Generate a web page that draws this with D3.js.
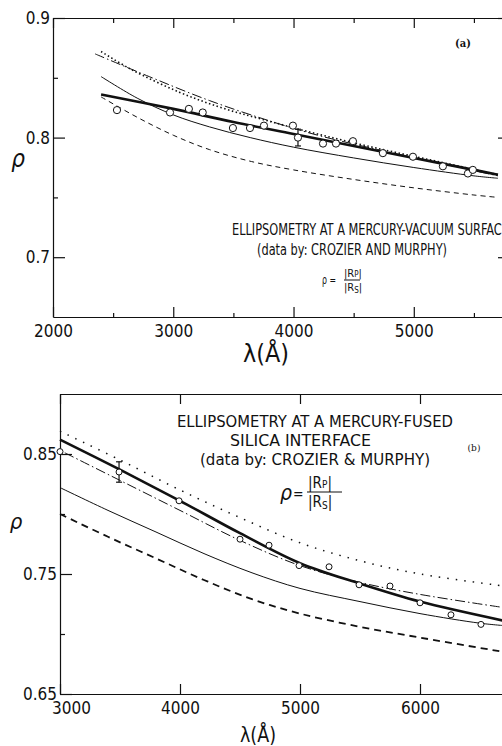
<!DOCTYPE html>
<html>
<head>
<meta charset="utf-8">
<script src="https://cdn.jsdelivr.net/npm/d3@7"></script>
<style>
body { margin: 0; background: #fff; }
svg { display: block; }
text { font-family: "DejaVu Sans Condensed", "Liberation Sans Narrow", "DejaVu Sans", sans-serif; fill: #111; font-stretch: condensed; }
.axis path, .axis line { stroke: #111; stroke-width: 1.2; }
</style>
</head>
<body>
<svg id="chart" width="502" height="746"></svg>
<script>
// ---- panel (a): mercury - vacuum surface, [wavelength (A), rho]
const aThick   = [[2400,0.836],[3000,0.824],[3500,0.813],[4000,0.803],[4500,0.793],[5000,0.783],[5500,0.773],[5700,0.769]];
const aDotted  = [[2400,0.872],[2650,0.857],[3050,0.838],[3400,0.825],[3750,0.815],[4200,0.803],[4700,0.791],[5200,0.780],[5700,0.769]];
const aDashDot = [[2350,0.870],[2800,0.851],[3300,0.831],[3800,0.814],[4200,0.802],[4700,0.790],[5200,0.779],[5700,0.768]];
const aThin    = [[2400,0.851],[2700,0.833],[3000,0.819],[3300,0.809],[3640,0.800],[4000,0.792],[4500,0.783],[5000,0.775],[5500,0.768],[5700,0.766]];
const aDashed  = [[2400,0.834],[2700,0.817],[3000,0.802],[3300,0.790],[3650,0.780],[4000,0.773],[4500,0.765],[5000,0.758],[5500,0.752],[5700,0.750]];
const aPtsL = [2532,2973,3130,3245,3496,3638,3754,3995,4037,4245,4353,4494,4743,4993,5242,5450,5491];
const aPtsR = [0.823,0.821,0.824,0.821,0.808,0.808,0.810,0.810,0.800,0.795,0.795,0.797,0.787,0.784,0.776,0.770,0.773];
const aErr = [4037, 0.800, 0.007];

// ---- panel (b): mercury - fused silica interface
const bThick   = [[3000,0.862],[3500,0.837],[4000,0.811],[4500,0.784],[5000,0.759],[5500,0.742],[6000,0.727],[6700,0.711]];
const bDotted  = [[3000,0.869],[3500,0.845],[4000,0.820],[4500,0.797],[5000,0.776],[5500,0.761],[6000,0.750],[6700,0.740]];
const bDashDot = [[3040,0.851],[3500,0.828],[4000,0.803],[4500,0.778],[5000,0.757],[5500,0.743],[6000,0.733],[6700,0.722]];
const bThin    = [[3000,0.822],[3400,0.803],[3800,0.785],[4200,0.767],[4600,0.751],[5000,0.738],[5500,0.727],[6000,0.717],[6500,0.709],[6700,0.707]];
const bDashed  = [[3000,0.800],[3400,0.781],[3800,0.763],[4200,0.745],[4600,0.729],[5000,0.717],[5500,0.706],[6000,0.697],[6700,0.685]];
const bPtsL = [3000,3492,3992,4500,4742,4992,5242,5492,5750,6000,6258,6508];
const bPtsR = [0.852,0.835,0.811,0.779,0.774,0.757,0.756,0.741,0.740,0.726,0.716,0.708];
const bErr = [3492, 0.835, 0.0085];

// tick values
const aXMajor = [2000,3000,4000,5000], aXMinor = [2500,3500,4500,5500];
const aYMajor = [0.7,0.8,0.9], aYMinor = [0.75,0.85];
const bXMajor = [3000,4000,5000,6000];
const bYMajor = [0.65,0.75,0.85], bYMinor = [0.7,0.8];

const svg = d3.select('#chart');

function drawPanel(o) {
  const g = svg.append('g');
  const x = d3.scaleLinear().domain(o.xDomain).range(o.xRange);
  const y = d3.scaleLinear().domain([0.65, 0.9]).range(o.yRange);
  const [x0, x1] = o.xRange, [yb, yt] = o.yRange;

  // bottom axis with labels (ticks point inward)
  g.append('g').attr('class','axis').attr('transform','translate(0,'+yb+')')
    .call(d3.axisBottom(x).tickValues(o.xMajor).tickSize(-10).tickSizeOuter(0).tickPadding(8).tickFormat(d3.format('d')))
    .call(s => s.selectAll('text').attr('font-size', 17).style('font-family', null));
  if (o.xMinor) g.append('g').attr('class','axis').attr('transform','translate(0,'+yb+')')
    .call(d3.axisBottom(x).tickValues(o.xMinor).tickSize(-4).tickSizeOuter(0).tickFormat(''))
    .call(s => s.select('.domain').remove());
  // top axis
  g.append('g').attr('class','axis').attr('transform','translate(0,'+yt+')')
    .call(d3.axisTop(x).tickValues(o.xMajor).tickSize(-10).tickSizeOuter(0).tickFormat(''));
  if (o.xMinor) g.append('g').attr('class','axis').attr('transform','translate(0,'+yt+')')
    .call(d3.axisTop(x).tickValues(o.xMinor).tickSize(-5).tickSizeOuter(0).tickFormat(''))
    .call(s => s.select('.domain').remove());
  // left axis
  g.append('g').attr('class','axis').attr('transform','translate('+x0+',0)')
    .call(d3.axisLeft(y).tickValues(o.yMajor).tickSize(-12).tickSizeOuter(0).tickPadding(3).tickFormat(d3.format(o.yFmt)))
    .call(s => s.selectAll('text').attr('font-size', 17).style('font-family', null));
  g.append('g').attr('class','axis').attr('transform','translate('+x0+',0)')
    .call(d3.axisLeft(y).tickValues(o.yMinor).tickSize(-5).tickSizeOuter(0).tickFormat(''))
    .call(s => s.select('.domain').remove());
  // right axis
  g.append('g').attr('class','axis').attr('transform','translate('+x1+',0)')
    .call(d3.axisRight(y).tickValues(o.yMajor).tickSize(-12).tickSizeOuter(0).tickFormat(''));
  g.selectAll('.axis .tick line').attr('stroke-width', 1.2);

  const line = d3.line().x(d => x(d[0])).y(d => y(d[1])).curve(d3.curveCatmullRom.alpha(0.5));
  o.curves.forEach(c => {
    g.append('path').attr('d', line(c.data))
      .attr('fill','none').attr('stroke','#111')
      .attr('stroke-width', c.w)
      .attr('stroke-dasharray', c.dash || null)
      .attr('stroke-linecap', c.cap || 'butt');
  });

  // error bar
  const [el, er, ee] = o.err;
  g.append('line').attr('x1', x(el)).attr('x2', x(el)).attr('y1', y(er+ee)).attr('y2', y(er-ee))
    .attr('stroke','#111').attr('stroke-width',1.2);
  [er+ee, er-ee].forEach(v => g.append('line')
    .attr('x1', x(el)-3).attr('x2', x(el)+3).attr('y1', y(v)).attr('y2', y(v))
    .attr('stroke','#111').attr('stroke-width',1.2));

  // data points
  g.selectAll('circle.pt').data(d3.range(o.ptsL.length)).enter().append('circle')
    .attr('class','pt')
    .attr('cx', i => x(o.ptsL[i])).attr('cy', i => y(o.ptsR[i]))
    .attr('r', o.r).attr('fill','#fff').attr('stroke','#111').attr('stroke-width',1);

  return g;
}

const ga = drawPanel({
  xDomain: [2000, 5800], xRange: [53, 510], yRange: [317, 18],
  xMajor: aXMajor, xMinor: aXMinor, yMajor: aYMajor, yMinor: aYMinor, yFmt: '.1f',
  curves: [
    {data: aDashed, w: 1, dash: '5,4'},
    {data: aThin, w: 1},
    {data: aDashDot, w: 1, dash: '10,3,1.5,3'},
    {data: aDotted, w: 1.6, dash: '1.5,2.5'},
    {data: aThick, w: 2.6}
  ],
  ptsL: aPtsL, ptsR: aPtsR, err: aErr, r: 3.6
});

const gb = drawPanel({
  xDomain: [3000, 6800], xRange: [60, 516], yRange: [694, 394],
  xMajor: bXMajor, xMinor: null, yMajor: bYMajor, yMinor: bYMinor, yFmt: '.2f',
  curves: [
    {data: bDashed, w: 1.8, dash: '7,5'},
    {data: bThin, w: 1},
    {data: bDashDot, w: 1, dash: '10,3,1.5,3'},
    {data: bDotted, w: 1.5, dash: '1.5,7'},
    {data: bThick, w: 2.6}
  ],
  ptsL: bPtsL, ptsR: bPtsR, err: bErr, r: 3
});
// first label of panel (b) sits a little right of the corner
gb.select('.axis .tick text').attr('dx', 11);

// ---- annotations
function txt(x, y, s, size, len, extra) {
  const t = svg.append('text').attr('x', x).attr('y', y).attr('font-size', size).text(s);
  if (len) t.attr('textLength', len).attr('lengthAdjust', 'spacingAndGlyphs');
  if (extra) extra(t);
  return t;
}

// panel (a)
txt(463, 47, '(a)', 11, null, t => t.attr('text-anchor','middle').style('font-family','DejaVu Serif').attr('font-weight','bold'));
txt(232, 235, 'ELLIPSOMETRY AT A MERCURY-VACUUM SURFACE', 16, 277);
txt(257, 255, '(data by:  CROZIER AND MURPHY)', 15, 190);
txt(322, 284, 'ρ =', 12, 14);
txt(344, 277, '|R', 11, null).append('tspan').attr('font-size', 8).text('P').clone(true).attr('font-size', 11).text('|');
svg.append('line').attr('x1', 344).attr('x2', 360).attr('y1', 280).attr('y2', 280).attr('stroke','#111').attr('stroke-width',1);
txt(344, 291, '|R', 11, null).append('tspan').attr('font-size', 8).attr('dy', 2).text('S').clone(true).attr('font-size', 11).attr('dy', -2).text('|');
txt(18, 167, 'ρ', 24, null, t => t.attr('text-anchor','middle').attr('font-style','italic'));
txt(243, 362, 'λ(Å)', 24, 46);

// panel (b)
txt(177, 427, 'ELLIPSOMETRY AT A MERCURY-FUSED', 16, 276);
txt(230, 446, 'SILICA INTERFACE', 16, 141);
txt(200, 465, '(data by: CROZIER & MURPHY)', 16, 230);
txt(474, 451, '(b)', 10, null, t => t.attr('text-anchor','middle').style('font-family','DejaVu Serif'));
txt(280, 500, 'ρ', 21, null, t => t.attr('font-style','italic'));
txt(293, 499, '=', 14, null);
txt(308, 488, '|R', 15, null).append('tspan').attr('font-size', 10).text('P').clone(true).attr('font-size', 15).text('|');
svg.append('line').attr('x1', 307).attr('x2', 342).attr('y1', 492).attr('y2', 492).attr('stroke','#111').attr('stroke-width',1);
txt(308, 507, '|R', 15, null).append('tspan').attr('font-size', 10).attr('dy', 2).text('S').clone(true).attr('font-size', 15).attr('dy', -2).text('|');
txt(16, 529, 'ρ', 22, null, t => t.attr('text-anchor','middle').attr('font-style','italic'));
txt(240, 742, 'λ(Å)', 22, 36);
</script>
</body>
</html>
